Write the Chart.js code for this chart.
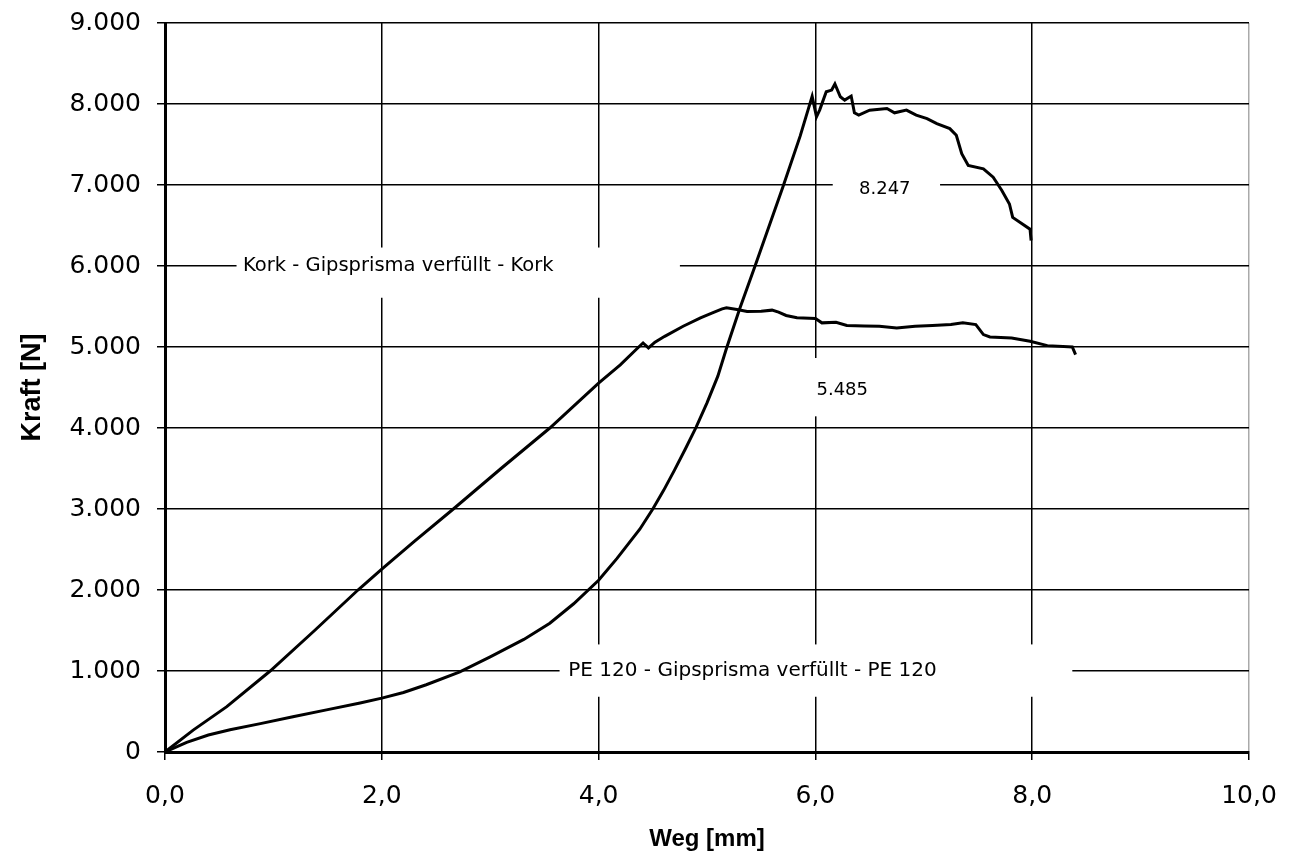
<!DOCTYPE html>
<html><head><meta charset="utf-8">
<script src="https://cdn.jsdelivr.net/npm/chart.js@4/dist/chart.umd.min.js"></script>
<style>html,body{margin:0;padding:0;background:#fff}</style>
</head><body>
<canvas id="c" width="1291" height="862"></canvas>
<script>
// ---- data ----
const xTickValues = [0, 2, 4, 6, 8, 10];
const yTickValues = [0, 1000, 2000, 3000, 4000, 5000, 6000, 7000, 8000, 9000];
const seriesNames = ['Kork - Gipsprisma verfüllt - Kork', 'PE 120 - Gipsprisma verfüllt - PE 120'];
const peakLabels = ['5.485', '8.247'];

const korkWeg = [0, 0.26, 0.57, 0.97, 1.38, 1.78, 2.0, 2.3, 2.66, 3.1, 3.55, 4.0, 4.2, 4.37, 4.41, 4.46, 4.52, 4.61, 4.78, 4.94, 5.05, 5.14, 5.18, 5.29, 5.37, 5.5, 5.6, 5.66, 5.73, 5.83, 6.0, 6.06, 6.19, 6.29, 6.45, 6.59, 6.75, 6.92, 7.08, 7.25, 7.36, 7.48, 7.55, 7.61, 7.81, 7.98, 8.14, 8.37, 8.40];
const korkKraft = [0, 270, 560, 1000, 1500, 2000, 2258, 2600, 3000, 3500, 4000, 4553, 4780, 5000, 5050, 4988, 5060, 5132, 5256, 5360, 5420, 5470, 5485, 5460, 5438, 5440, 5455, 5430, 5389, 5360, 5352, 5298, 5306, 5265, 5260, 5256, 5236, 5256, 5265, 5277, 5298, 5277, 5153, 5124, 5112, 5070, 5017, 5000, 4905];

const peWeg = [0, 0.2, 0.4, 0.6, 0.88, 1.18, 1.49, 1.8, 2.0, 2.2, 2.41, 2.72, 3.0, 3.31, 3.55, 3.77, 4.0, 4.17, 4.38, 4.5, 4.6, 4.7, 4.8, 4.9, 5.0, 5.1, 5.18, 5.3, 5.44, 5.57, 5.70, 5.86, 5.97, 6.01, 6.04, 6.1, 6.15, 6.18, 6.23, 6.27, 6.33, 6.36, 6.40, 6.5, 6.66, 6.73, 6.84, 6.93, 7.03, 7.12, 7.24, 7.30, 7.35, 7.41, 7.55, 7.64, 7.72, 7.79, 7.82, 7.98, 7.99];
const peKraft = [0, 120, 210, 275, 350, 435, 520, 605, 665, 735, 830, 990, 1175, 1390, 1590, 1830, 2120, 2390, 2750, 3000, 3230, 3480, 3740, 4010, 4310, 4640, 4984, 5467, 5988, 6480, 6975, 7606, 8094, 7841, 7928, 8151, 8172, 8247, 8089, 8048, 8098, 7891, 7862, 7924, 7944, 7891, 7924, 7862, 7820, 7758, 7696, 7614, 7386, 7241, 7200, 7097, 6932, 6766, 6600, 6455, 6315];

// ---- label placement (data units) ----
const labelText = [seriesNames[0], seriesNames[1], peakLabels[1], peakLabels[0]];
const labelSize = [19.5, 20, 18, 18];
const labelAnchorX = [0.72, 3.72, 6.64, 6.01];
const labelAnchorY = [6000, 1000, 6950, 4467];
const labelAlign = ['left', 'left', 'center', 'left'];
const boxX1 = [0.66, 3.64, 6.16, 5.93];
const boxX2 = [4.75, 8.37, 7.15, 6.82];
const boxY1 = [6228, 1328, 7283, 4864];
const boxY2 = [5608, 682, 6600, 4144];

const toPoints = (xs, ys) => xs.map((v, i) => ({x: v, y: ys[i]}));
const fmtThousands = v => String(v).replace(/\B(?=(\d{3})+(?!\d))/g, '.');

const labelPlugin = {
  id: 'boxLabels',
  beforeDatasetsDraw(chart) {
    const {ctx, scales: {x, y}} = chart;
    ctx.save();
    labelText.forEach((t, i) => {
      const x1 = x.getPixelForValue(boxX1[i]), x2 = x.getPixelForValue(boxX2[i]);
      const y1 = y.getPixelForValue(boxY1[i]), y2 = y.getPixelForValue(boxY2[i]);
      ctx.fillStyle = '#fff';
      ctx.fillRect(Math.min(x1, x2), Math.min(y1, y2), Math.abs(x2 - x1), Math.abs(y2 - y1));
      ctx.fillStyle = '#000';
      ctx.font = labelSize[i] + 'px "DejaVu Sans"';
      ctx.textAlign = labelAlign[i];
      ctx.textBaseline = 'middle';
      ctx.fillText(t, x.getPixelForValue(labelAnchorX[i]), y.getPixelForValue(labelAnchorY[i]));
    });
    ctx.restore();
  }
};

new Chart(document.getElementById('c'), {
  type: 'line',
  data: {
    datasets: [
      {label: seriesNames[0], data: toPoints(korkWeg, korkKraft), borderColor: '#000', borderWidth: 3, pointRadius: 0, fill: false, tension: 0},
      {label: seriesNames[1], data: toPoints(peWeg, peKraft), borderColor: '#000', borderWidth: 3, pointRadius: 0, fill: false, tension: 0}
    ]
  },
  options: {
    responsive: false,
    animation: false,
    devicePixelRatio: 1,
    layout: {padding: {top: 23, right: 42, left: 0, bottom: 0}},
    plugins: {legend: {display: false}, tooltip: {enabled: false}},
    scales: {
      x: {
        type: 'linear', min: 0, max: 10,
        afterBuildTicks: s => { s.ticks = xTickValues.map(v => ({value: v})); },
        afterFit: s => { s.height = 110; s.paddingLeft = 0; s.paddingRight = 0; },
        ticks: {callback: v => v.toFixed(1).replace('.', ','), font: {family: 'DejaVu Sans', size: 25}, color: '#000', padding: 21, maxRotation: 0},
        grid: {color: c => (c.tick && c.tick.value === 10) ? '#aaa' : '#000', lineWidth: 1.5, tickLength: 8, tickColor: '#000'},
        border: {color: '#000', width: 3},
        title: {display: true, text: 'Weg [mm]', font: {family: 'Liberation Sans', size: 24, weight: 'bold'}, color: '#000', padding: {top: 0, bottom: 8}}
      },
      y: {
        type: 'linear', min: 0, max: 9000,
        afterBuildTicks: s => { s.ticks = yTickValues.map(v => ({value: v})); },
        afterFit: s => { s.width = 165; s.paddingTop = 0; s.paddingBottom = 0; },
        ticks: {callback: v => fmtThousands(v), font: {family: 'DejaVu Sans', size: 25}, color: '#000', padding: 16},
        grid: {color: '#000', lineWidth: 1.5, tickLength: 8, tickColor: '#000'},
        border: {color: '#000', width: 3},
        title: {display: true, text: 'Kraft [N]', font: {family: 'Liberation Sans', size: 27, weight: 'bold'}, color: '#000', padding: {top: 16, bottom: 0}}
      }
    }
  },
  plugins: [labelPlugin]
});
</script>
</body></html>
